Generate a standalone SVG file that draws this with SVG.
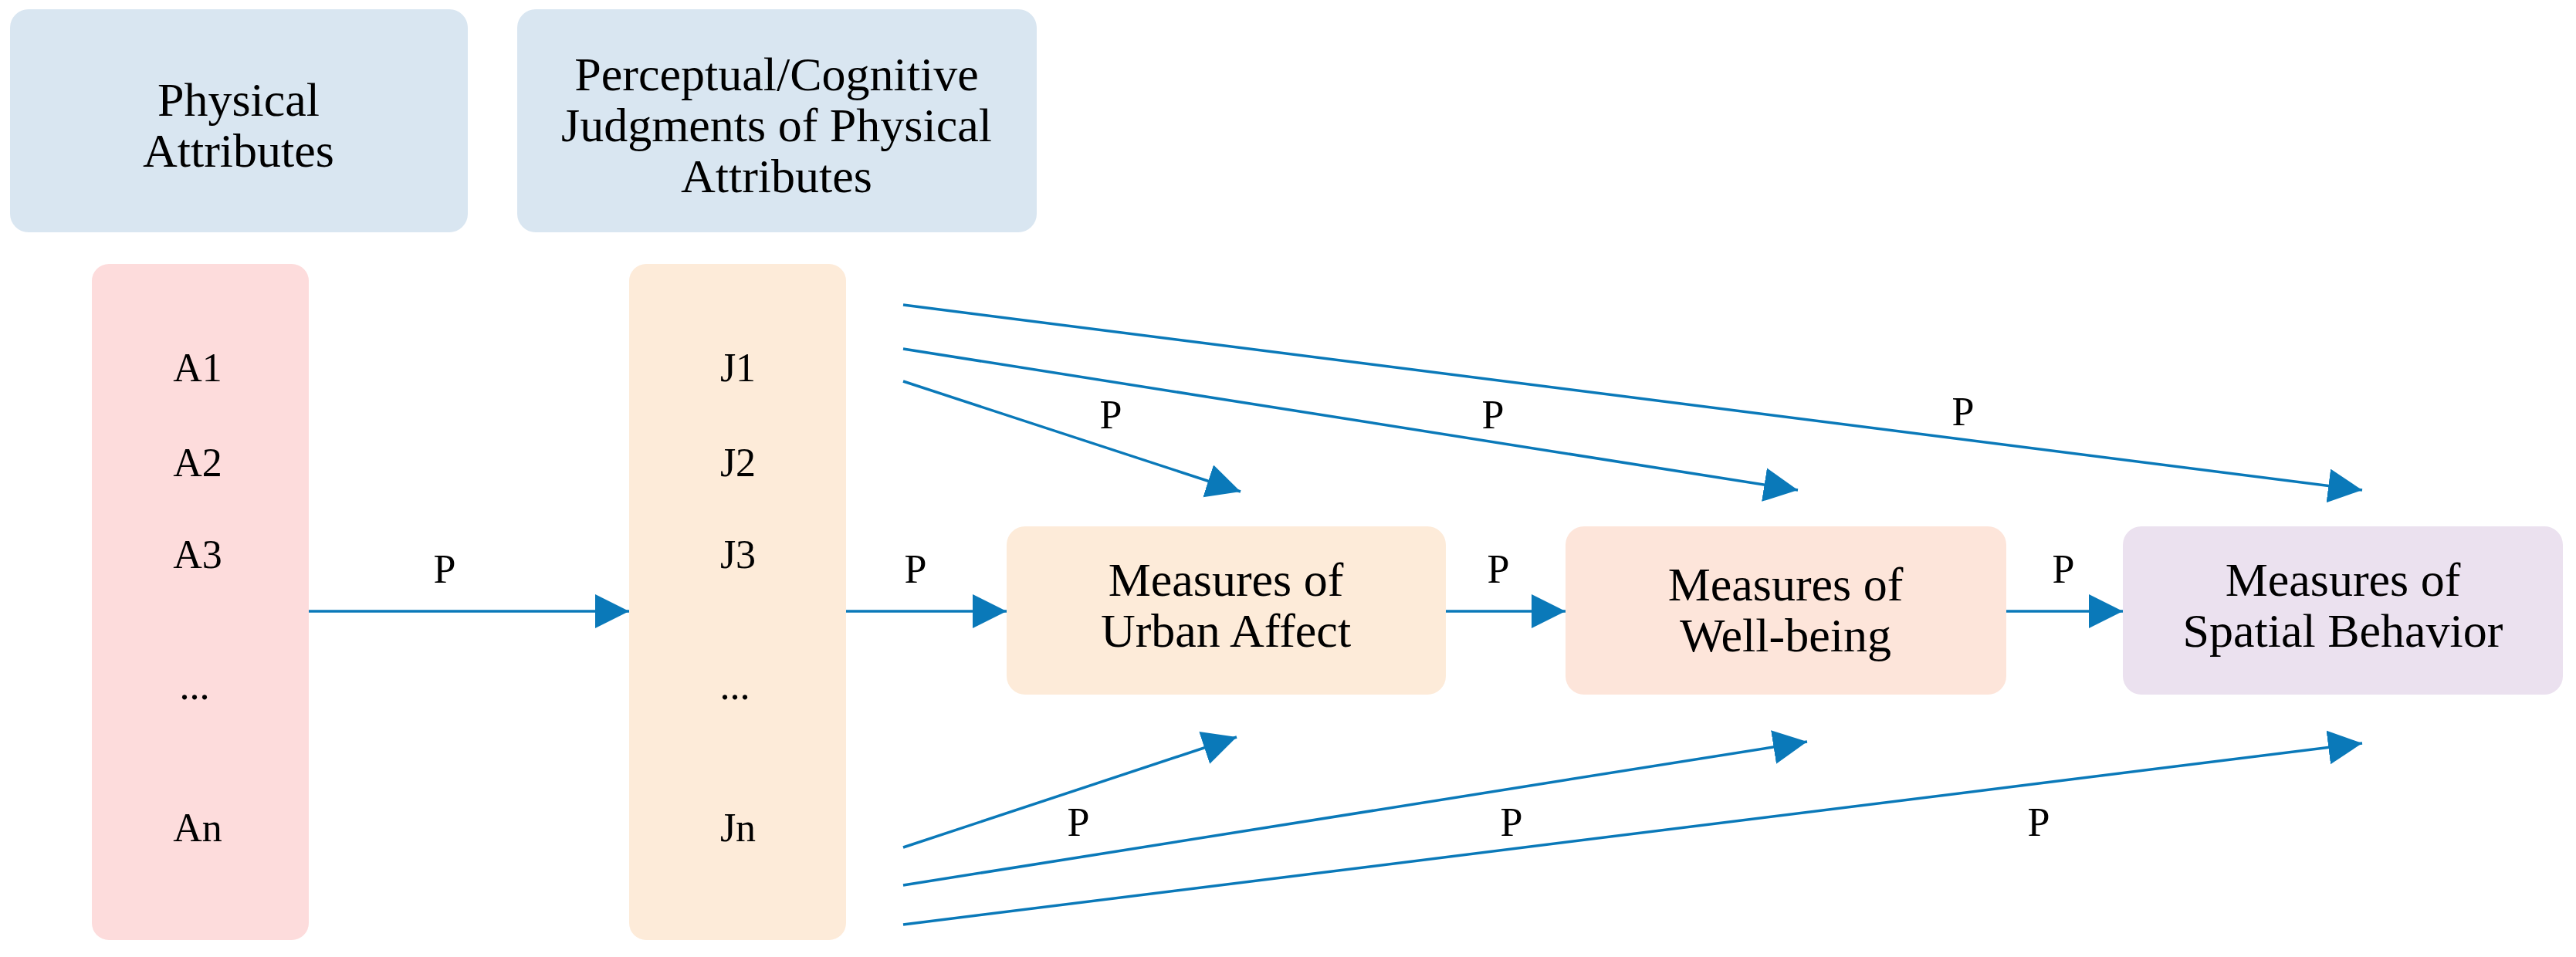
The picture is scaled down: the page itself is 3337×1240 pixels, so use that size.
<svg xmlns="http://www.w3.org/2000/svg" width="3337" height="1240" viewBox="0 0 3337 1240">
<style>
text{font-family:"Liberation Serif","Times New Roman",serif;fill:#000;text-anchor:middle}
.t{font-size:62px}.i{font-size:52px}.p{font-size:52px}
.c{stroke:#0a79b9;stroke-width:3.5;fill:none;marker-end:url(#ah)}
</style>
<defs><marker id="ah" markerUnits="userSpaceOnUse" markerWidth="46" markerHeight="46" refX="44" refY="22" orient="auto" viewBox="0 0 46 46"><path d="M0,0 L44,22 L0,44 Z" fill="#0a79b9"/></marker></defs>
<rect width="3337" height="1240" fill="#fff"/>
<g id="physical"><rect x="13" y="12" width="593" height="289" rx="24" fill="#d9e6f1"/><text class="t" x="309" y="150">Physical</text><text class="t" x="309" y="216">Attributes</text></g>
<g id="perceptual"><rect x="670" y="12" width="673" height="289" rx="24" fill="#d9e6f1"/><text class="t" x="1006" y="117">Perceptual/Cognitive</text><text class="t" x="1006" y="183">Judgments of Physical</text><text class="t" x="1006" y="249">Attributes</text></g>
<g id="acol"><rect x="119" y="342" width="281" height="876" rx="22" fill="#fddcdc"/>
<text class="i" x="256" y="494">A1</text><text class="i" x="256" y="617">A2</text><text class="i" x="256" y="736">A3</text><text class="i" x="252" y="906">...</text><text class="i" x="256" y="1090">An</text></g>
<g id="jcol"><rect x="815" y="342" width="281" height="876" rx="22" fill="#fdebd9"/>
<text class="i" x="956" y="494">J1</text><text class="i" x="956" y="617">J2</text><text class="i" x="956" y="736">J3</text><text class="i" x="952" y="906">...</text><text class="i" x="956" y="1090">Jn</text></g>
<g id="urban"><rect x="1304" y="682" width="569" height="218" rx="24" fill="#fdebd9"/><text class="t" x="1588" y="772">Measures of</text><text class="t" x="1588" y="838">Urban Affect</text></g>
<g id="wellbeing"><rect x="2028" y="682" width="571" height="218" rx="24" fill="#fde5da"/><text class="t" x="2313" y="778">Measures of</text><text class="t" x="2313" y="844">Well-being</text></g>
<g id="spatial"><rect x="2750" y="682" width="570" height="218" rx="24" fill="#ebe1ef"/><text class="t" x="3035" y="772">Measures of</text><text class="t" x="3035" y="838">Spatial Behavior</text></g>
<g id="connectors">
<line class="c" x1="400" y1="792" x2="815" y2="792"/>
<line class="c" x1="1096" y1="792" x2="1304" y2="792"/>
<line class="c" x1="1873" y1="792" x2="2028" y2="792"/>
<line class="c" x1="2599" y1="792" x2="2750" y2="792"/>
<line class="c" x1="1170" y1="395" x2="3060" y2="635"/>
<line class="c" x1="1170" y1="452" x2="2329" y2="635"/>
<line class="c" x1="1170" y1="494" x2="1607" y2="637"/>
<line class="c" x1="1170" y1="1098" x2="1602" y2="955"/>
<line class="c" x1="1170" y1="1147" x2="2341" y2="961"/>
<line class="c" x1="1170" y1="1198" x2="3060" y2="963"/>
<text class="p" x="576" y="755">P</text><text class="p" x="1186" y="755">P</text><text class="p" x="1941" y="755">P</text><text class="p" x="2673" y="755">P</text>
<text class="p" x="1439" y="555">P</text><text class="p" x="1934" y="555">P</text><text class="p" x="2543" y="551">P</text>
<text class="p" x="1397" y="1083">P</text><text class="p" x="1958" y="1083">P</text><text class="p" x="2641" y="1083">P</text>
</g>
</svg>
